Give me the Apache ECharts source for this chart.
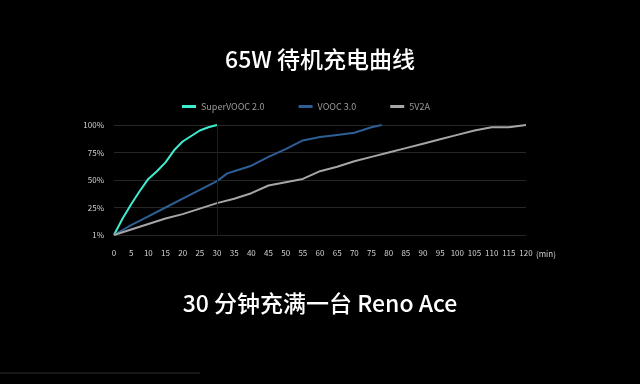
<!DOCTYPE html>
<html><head><meta charset="utf-8">
<script src="https://cdn.jsdelivr.net/npm/echarts@6/dist/echarts.min.js"></script>
<style>html,body{margin:0;padding:0;background:#000;}#c{width:640px;height:384px;}</style>
</head><body><div id="c"></div>
<script>
const titleText = '65W 待机充电曲线';
const subtitleText = '30 分钟充满一台 Reno Ace';
const seriesNames = ['SuperVOOC 2.0', 'VOOC 3.0', '5V2A'];
const superVooc = [[0,0],[2.5,15],[5,28],[7.5,40],[10,51],[12.5,58],[15,66],[17.5,77],[20,85],[22.5,90],[25,95],[27.5,98],[30,100]];
const vooc3 = [[0,0],[5,9],[10,17],[15,25],[20,33],[25,41],[30,49],[33,56],[35,58],[40,63],[45,71],[50,78],[55,86],[60,89],[65,91],[70,93],[75,98],[78,100]];
const v5a2 = [[0,0],[5,5],[10,10],[15,15],[20,19],[25,24],[30,29],[35,33],[40,38],[45,45],[50,48],[55,51],[60,58],[65,62],[70,67],[75,71],[80,75],[85,79],[90,83],[95,87],[100,91],[105,95],[110,98],[115,98],[120,100]];
const yTickLabels = {0:'1%',25:'25%',50:'50%',75:'75%',100:'100%'};
const xUnit = '(min)';

const chart = echarts.init(document.getElementById('c'), null, {renderer:'canvas'});
const font = '"Noto Sans CJK SC","Noto Sans",sans-serif';
chart.setOption({
  backgroundColor:'#000',
  animation:false,
  title:[
    {text:titleText,left:'center',top:43,textStyle:{color:'#fff',fontSize:23,fontWeight:500,fontFamily:font}},
    {text:subtitleText,left:'center',top:287,textStyle:{color:'#fff',fontSize:23,fontWeight:500,fontFamily:font}}
  ],
  legend:{
    top:97,left:177,itemWidth:14,itemHeight:3,itemGap:34,icon:'rect',
    textStyle:{color:'#9a9a9a',fontSize:9,fontFamily:font},
    data:seriesNames
  },
  grid:{left:114,right:114,top:125,bottom:149,containLabel:false},
  xAxis:{
    type:'value',min:0,max:120,interval:5,
    axisLine:{show:false},axisTick:{show:false},splitLine:{show:false},
    axisLabel:{color:'#d0d0d0',fontSize:8,margin:14,fontFamily:font}
  },
  yAxis:{
    type:'value',min:0,max:100,interval:25,
    axisLine:{show:false},axisTick:{show:false},
    splitLine:{lineStyle:{color:'#262626',width:1}},
    axisLabel:{color:'#d0d0d0',fontSize:8,margin:10,fontFamily:font,formatter:v=>yTickLabels[v]}
  },
  series:[
    {name:seriesNames[0],type:'line',data:superVooc,symbol:'none',lineStyle:{width:2,color:'#40ecd0'},itemStyle:{color:'#40ecd0'},
     markLine:{silent:true,symbol:'none',label:{show:false},lineStyle:{color:'#1c1c1c',width:1,type:'solid'},data:[{xAxis:30}]}},
    {name:seriesNames[1],type:'line',data:vooc3,symbol:'none',lineStyle:{width:2,color:'#2d5f96'},itemStyle:{color:'#2d5f96'}},
    {name:seriesNames[2],type:'line',data:v5a2,symbol:'none',lineStyle:{width:2,color:'#a6a6a6'},itemStyle:{color:'#a6a6a6'}}
  ],
  graphic:[
    {type:'text',left:536,top:250,style:{text:xUnit,fill:'#d0d0d0',font:'8px '+font}},
    {type:'line',shape:{x1:0,y1:373,x2:200,y2:373},style:{stroke:'#2a2a2a',lineWidth:1}}
  ]
});
</script></body></html>
